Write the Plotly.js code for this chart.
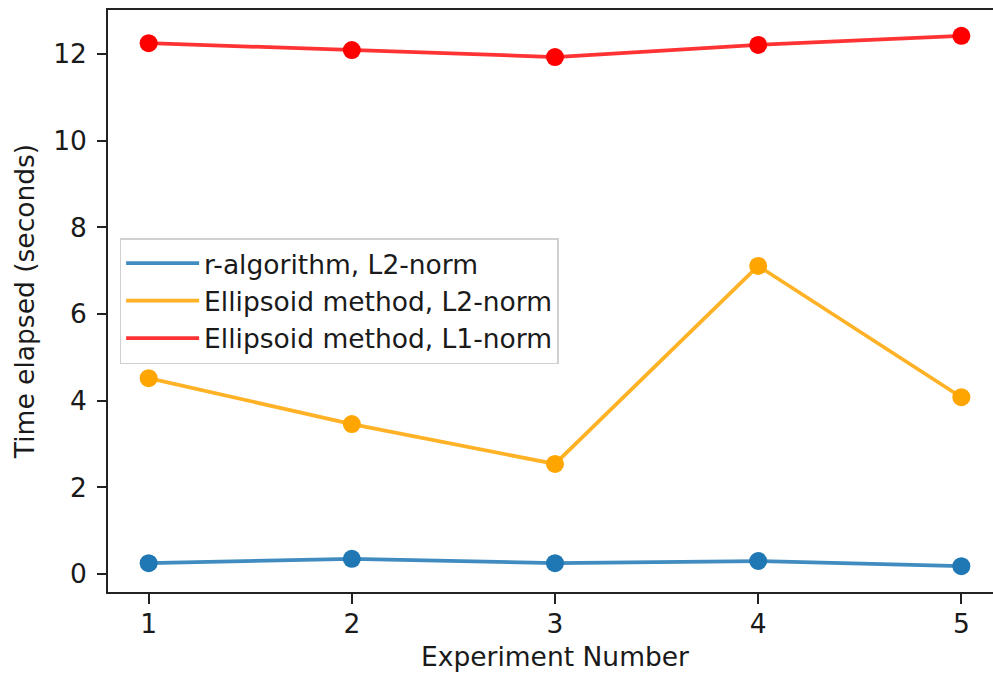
<!DOCTYPE html>
<html>
<head>
<meta charset="utf-8">
<script src="https://cdn.plot.ly/plotly-3.0.1.min.js"></script>
<style>
html, body { margin: 0; padding: 0; overflow: hidden; background: #fff; }
#chart { width: 1010px; height: 677px; }
</style>
</head>
<body>
<div id="chart"></div>
<script>
const experiments = [1, 2, 3, 4, 5];
const rAlgL2 = [0.25, 0.35, 0.25, 0.30, 0.18];
const ellipsoidL2 = [4.52, 3.46, 2.54, 7.11, 4.08];
const ellipsoidL1 = [12.25, 12.09, 11.93, 12.21, 12.42];
const seriesNames = ['r-algorithm, L2-norm', 'Ellipsoid method, L2-norm', 'Ellipsoid method, L1-norm'];
const xTicks = [1, 2, 3, 4, 5];
const yTicks = [0, 2, 4, 6, 8, 10, 12];

const lineColors = ['rgba(31,119,180,0.85)', 'rgba(255,165,0,0.85)', 'rgba(255,0,0,0.8)'];
const markerColors = ['#1f77b4', '#ffa500', '#ff0000'];
const allSeries = [rAlgL2, ellipsoidL2, ellipsoidL1];

const traces = [];
allSeries.forEach((ys, i) => {
  traces.push({
    x: experiments, y: ys, type: 'scatter', mode: 'lines',
    name: seriesNames[i],
    line: {color: lineColors[i], width: 3.75},
    showlegend: true
  });
});
allSeries.forEach((ys, i) => {
  traces.push({
    x: experiments, y: ys, type: 'scatter', mode: 'markers',
    marker: {color: markerColors[i], size: 18},
    showlegend: false, hoverinfo: 'skip'
  });
});

const font = {family: 'DejaVu Sans, sans-serif', size: 26.5, color: '#1a1a1a'};

const layout = {
  width: 1010, height: 677,
  margin: {l: 108, r: 8, t: 10, b: 85},
  paper_bgcolor: '#fff', plot_bgcolor: '#fff',
  font: font,
  showlegend: true,
  xaxis: {
    range: [0.8, 5.2],
    tickvals: xTicks, ticktext: xTicks.map(String),
    showgrid: false, zeroline: false,
    showline: true, linecolor: '#222', linewidth: 1.8, mirror: true,
    ticks: 'outside', ticklen: 10, tickwidth: 1.8, tickcolor: '#222',
    tickfont: font, ticklabelstandoff: -3,
    title: {text: 'Experiment Number', font: font, standoff: 10}
  },
  yaxis: {
    range: [-0.415, 13.015],
    tickvals: yTicks, ticktext: yTicks.map(String),
    showgrid: false, zeroline: false,
    showline: true, linecolor: '#222', linewidth: 1.8, mirror: true,
    ticks: 'outside', ticklen: 9, tickwidth: 1.8, tickcolor: '#222',
    tickfont: font, ticklabelstandoff: 5,
    title: {text: 'Time elapsed (seconds)', font: font, standoff: 11}
  },
  legend: {
    x: 0.013, y: 0.5, xanchor: 'left', yanchor: 'middle',
    bgcolor: 'rgba(255,255,255,0.8)', bordercolor: '#d0d0d0', borderwidth: 1.5,
    font: font, itemwidth: 73
  }
};

Plotly.newPlot('chart', traces, layout, {displayModeBar: false, staticPlot: true});
</script>
</body>
</html>
